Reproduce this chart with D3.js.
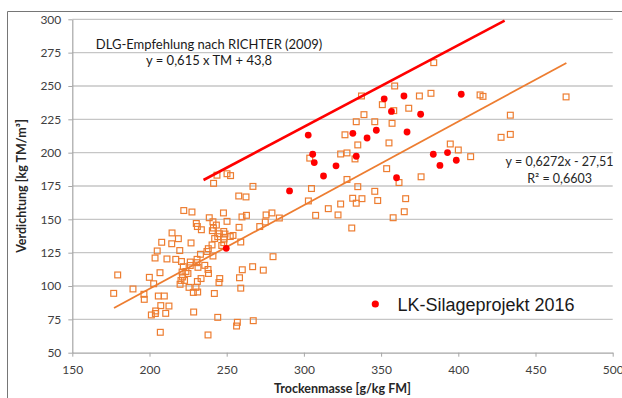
<!DOCTYPE html>
<html>
<head>
<meta charset="utf-8">
<script src="https://cdn.jsdelivr.net/npm/d3@7/dist/d3.min.js"></script>
<style>
  html, body { margin: 0; padding: 0; background: #fff; }
  svg { display: block; }
</style>
</head>
<body>
<div id="chart"></div>
<script>
// Trockenmasse (g/kg FM) and Verdichtung (kg TM/m3), older silage samples (orange squares)
const sampleTM = [
  384.1, 358.8, 337.3, 374.8, 382.3, 414.1, 416.0, 469.8, 350.8, 358.2,
  367.9, 338.9, 357.1, 333.9, 345.9, 433.7, 326.6, 334.9, 355.1, 427.7,
  433.7, 323.8, 327.9, 333.1, 303.8, 304.9, 327.9, 353.6, 375.9, 361.6,
  394.8, 400.0, 408.0, 334.9, 345.9, 331.6, 337.6, 347.8, 365.9, 302.9,
  333.9, 323.8, 315.8, 365.0, 307.6, 322.1, 357.8, 331.0,
  241.5, 243.7, 250.2, 252.5, 257.8, 262.5, 267.0,
  222.2, 227.5, 247.9, 238.7, 259.9, 262.8, 275.5, 279.3, 284.1,
  250.2, 241.1, 243.3, 241.4, 230.3, 231.0, 233.6, 240.7, 258.0, 275.0,
  271.4, 248.1, 214.6, 245.2, 248.9, 244.2, 252.3, 254.1, 242.2, 248.3,
  218.7, 248.1, 259.1, 226.9, 214.4, 240.5, 246.8, 219.6, 238.1, 237.2,
  233.0, 241.1, 280.0, 217.0, 230.8, 220.7, 226.4, 230.6, 226.4, 221.9,
  235.8, 231.4, 237.9, 238.2, 260.1, 266.8, 273.7,
  221.1, 223.6, 224.9, 221.4, 220.4, 222.7, 219.8, 225.6, 230.1, 228.4,
  231.2, 231.0, 233.4, 245.5, 245.0, 258.3, 259.1, 242.0, 212.6, 228.6,
  244.2, 256.9, 256.4, 267.2, 237.9,
  176.8, 179.4, 189.3, 196.4, 196.6, 199.9, 202.7, 201.2, 204.0, 203.8,
  207.0, 210.5, 207.3, 205.7, 209.6, 206.8, 205.0, 203.6, 207.9, 211.3
];
const sampleDensity = [
  267.5, 250.0, 242.5, 242.5, 244.5, 243.3, 242.2, 241.8, 236.0, 231.5,
  233.3, 228.5, 222.0, 223.2, 223.2, 228.1, 213.4, 205.8, 207.3, 211.5,
  213.7, 199.0, 199.8, 195.3, 195.9, 173.1, 179.9, 188.0, 181.9, 177.6,
  206.5, 202.0, 197.0, 174.5, 171.0, 165.8, 165.5, 164.1, 165.5, 163.8,
  162.1, 161.5, 158.0, 155.7, 153.0, 153.3, 151.2, 143.5,
  177.0, 183.1, 184.2, 182.8, 167.5, 166.8, 174.7,
  156.6, 155.5, 154.8, 151.2, 151.8, 153.0, 153.3, 154.8, 151.0,
  148.5, 148.2, 145.7, 143.5, 146.9, 144.6, 142.2, 141.5, 144.0, 148.0,
  144.6, 140.9, 139.8, 139.2, 139.0, 137.0, 137.1, 137.9, 135.6, 135.3,
  135.5, 132.5, 133.0, 132.3, 131.7, 130.8, 130.4, 126.6, 128.0, 125.9,
  123.8, 122.5, 122.0, 120.0, 120.0, 118.4, 118.0, 117.5, 115.4, 114.5,
  115.5, 114.0, 112.4, 109.4, 112.2, 114.5, 111.9,
  110.5, 110.9, 109.4, 106.8, 104.2, 104.2, 101.3, 99.0, 99.0, 95.2,
  95.5, 103.4, 105.6, 105.6, 102.6, 106.2, 98.4, 94.4, 85.0, 80.5,
  76.5, 72.8, 70.0, 74.0, 63.3,
  94.5, 108.3, 97.8, 93.8, 90.0, 106.5, 101.7, 78.3, 81.3, 79.4,
  65.3, 79.5, 85.3, 92.5, 92.5, 110.0, 126.3, 121.0, 132.8, 120.3
];

// LK-Silageprojekt 2016 (red dots)
const projectTM = [
  302.8, 305.7, 306.7, 290.7, 312.7, 320.8, 333.9, 331.7, 340.9, 346.9,
  352.0, 356.7, 364.8, 366.8, 375.6, 360.0, 401.9, 383.8, 393.0, 388.1,
  398.7, 249.7
];
const projectDensity = [
  213.2, 198.8, 192.6, 171.3, 182.5, 190.1, 197.3, 214.5, 211.0, 216.8,
  240.4, 230.9, 242.5, 215.5, 228.8, 181.2, 243.8, 198.8, 200.1, 190.4,
  194.3, 128.3
];

// DLG recommendation line as drawn in the chart (start / end)
const dlgTM = [235, 430];
const dlgDensity = [179.5, 299];

// linear trend of the samples
const trendSlope = 0.6272;
const trendIntercept = -27.51;
const trendRange = [177, 470];

const xTicks = [150, 200, 250, 300, 350, 400, 450, 500];
const yTicks = [50, 75, 100, 125, 150, 175, 200, 225, 250, 275, 300];

const W = 622, H = 398;
const margin = { top: 19.3, right: 9.3, bottom: 45.3, left: 72.3 },
  width = W - margin.left - margin.right,
  height = H - margin.top - margin.bottom;

const orange = '#ED7D31';
const red = '#FF0000';
const font = 'Lato, "Open Sans", sans-serif';

const x = d3.scaleLinear().domain([150, 500]).range([0, width]);
const y = d3.scaleLinear().domain([50, 300]).range([height, 0]);

const svg = d3.select('#chart')
  .append('svg')
  .attr('width', W)
  .attr('height', H);

svg.append('rect').attr('width', W).attr('height', H).attr('fill', '#fff');

// outer frame (only left and top edges visible)
svg.append('path')
  .attr('d', 'M7.5,' + H + 'V11.5H' + W)
  .attr('fill', 'none')
  .attr('stroke', '#767676')
  .attr('stroke-width', 1);

const g = svg.append('g')
  .attr('transform', 'translate(' + margin.left + ',' + margin.top + ')');

// horizontal grid
g.append('g')
  .selectAll('line')
  .data(yTicks.filter(d => d > 50))
  .enter()
  .append('line')
  .attr('x1', 0)
  .attr('x2', width)
  .attr('y1', d => y(d))
  .attr('y2', d => y(d))
  .attr('stroke', '#c6c6c6')
  .attr('stroke-width', 1.3);

// Y axis
const yAxis = g.append('g')
  .call(d3.axisLeft(y).tickValues(yTicks).tickSize(4).tickPadding(7).tickSizeOuter(0));
// X axis
const xAxis = g.append('g')
  .attr('transform', 'translate(0,' + height + ')')
  .call(d3.axisBottom(x).tickValues(xTicks).tickSize(4).tickPadding(9).tickSizeOuter(0));

[yAxis, xAxis].forEach(a => {
  a.select('.domain').attr('stroke', '#a6a6a6').attr('stroke-width', 1.2);
  a.selectAll('.tick line').attr('stroke', '#a6a6a6');
  a.selectAll('.tick text')
    .attr('fill', '#404040')
    .style('font-family', font)
    .style('font-size', '12px');
});

// samples
const samples = sampleTM.map((d, i) => ({ tm: d, v: sampleDensity[i] }));
g.append('g')
  .selectAll('rect')
  .data(samples)
  .enter()
  .append('rect')
  .attr('x', d => x(d.tm) - 2.9)
  .attr('y', d => y(d.v) - 2.9)
  .attr('width', 5.8)
  .attr('height', 5.8)
  .attr('fill', 'none')
  .attr('stroke', orange)
  .attr('stroke-width', 1.2);

// trend line
const line = d3.line()
  .x(d => x(d[0]))
  .y(d => y(d[1]));

g.append('path')
  .datum(trendRange.map(t => [t, trendSlope * t + trendIntercept]))
  .attr('fill', 'none')
  .attr('stroke', orange)
  .attr('stroke-width', 1.8)
  .attr('d', line);

// DLG line
g.append('path')
  .datum(dlgTM.map((t, i) => [t, dlgDensity[i]]))
  .attr('fill', 'none')
  .attr('stroke', red)
  .attr('stroke-width', 2.6)
  .attr('d', line);

// project dots
g.append('g')
  .selectAll('circle')
  .data(projectTM.map((d, i) => ({ tm: d, v: projectDensity[i] })))
  .enter()
  .append('circle')
  .attr('cx', d => x(d.tm))
  .attr('cy', d => y(d.v))
  .attr('r', 3.4)
  .attr('fill', red);

// annotations
svg.append('text')
  .attr('x', 209).attr('y', 49)
  .attr('text-anchor', 'middle')
  .style('font-family', font).style('font-size', '13px').attr('fill', '#1a1a1a')
  .text('DLG-Empfehlung nach RICHTER (2009)');
svg.append('text')
  .attr('x', 209).attr('y', 65)
  .attr('text-anchor', 'middle')
  .style('font-family', font).style('font-size', '13px').attr('fill', '#1a1a1a')
  .text('y = 0,615 x TM + 43,8');

svg.append('text')
  .attr('x', 559.6).attr('y', 166)
  .attr('text-anchor', 'middle')
  .style('font-family', font).style('font-size', '12.5px').attr('fill', '#262626')
  .text('y = 0,6272x - 27,51');
svg.append('text')
  .attr('x', 559.6).attr('y', 183)
  .attr('text-anchor', 'middle')
  .style('font-family', font).style('font-size', '12.5px').attr('fill', '#262626')
  .text('R² = 0,6603');

// legend
svg.append('circle')
  .attr('cx', 375.3).attr('cy', 304)
  .attr('r', 3.6)
  .attr('fill', red);
svg.append('text')
  .attr('x', 397.5).attr('y', 310.5)
  .style('font-family', '"Liberation Sans", Arial, sans-serif')
  .style('font-size', '18px')
  .attr('fill', '#1a1a1a')
  .text('LK-Silageprojekt 2016');

// axis titles
svg.append('text')
  .attr('transform', 'translate(26,' + (margin.top + height / 2) + ') rotate(-90)')
  .attr('text-anchor', 'middle')
  .style('font-family', font).style('font-size', '12.5px').style('font-weight', 'bold')
  .attr('fill', '#262626')
  .text('Verdichtung [kg TM/m³]');
svg.append('text')
  .attr('x', margin.left + width / 2).attr('y', 393)
  .attr('text-anchor', 'middle')
  .style('font-family', font).style('font-size', '12.5px').style('font-weight', 'bold')
  .attr('fill', '#262626')
  .text('Trockenmasse [g/kg FM]');
</script>
</body>
</html>
